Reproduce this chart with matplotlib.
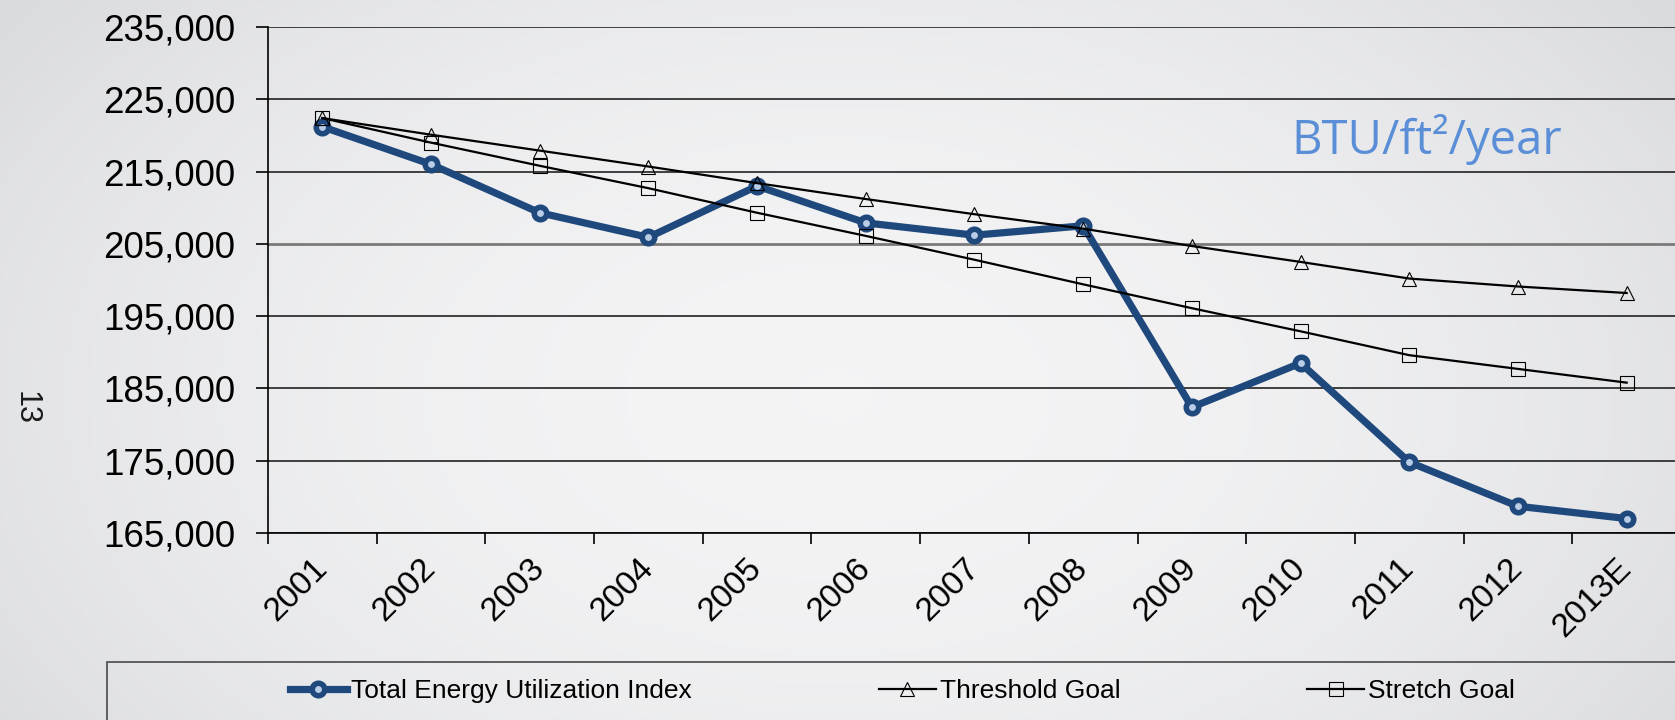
import numpy as np
import matplotlib.pyplot as plt
from matplotlib.lines import Line2D
from matplotlib.patches import Rectangle

# ==============================================================
# chart data

years = ['2001', '2002', '2003', '2004', '2005', '2006', '2007',
         '2008', '2009', '2010', '2011', '2012', '2013E']
total_eui = [221200, 216000, 209300, 205900, 213000, 207900, 206200,
             207500, 182400, 188500, 174800, 168700, 167000]
threshold_goal = [222400, 220100, 217900, 215700, 213400, 211200, 209100,
                  207100, 204700, 202500, 200200, 199100, 198200]
stretch_goal = [222400, 219000, 215800, 212700, 209300, 206100, 202800,
                199400, 196100, 192900, 189600, 187700, 185800]
y_ticks = list(range(165000, 235001, 10000))

W, H = 1675, 720
plt.rcParams['font.family'] = ['Liberation Sans', 'DejaVu Sans']

fig = plt.figure(figsize=(W / 100, H / 100), dpi=100)

# soft grey slide background
bg = fig.add_axes([0, 0, 1, 1], zorder=-10)
bg.axis('off')
gx, gy = np.meshgrid(np.linspace(0, 1, 400), np.linspace(0, 1, 200))
r = np.sqrt(((gx - 0.5) / 0.62) ** 2 + ((gy - 0.45) / 0.9) ** 2)
r = np.clip(r, 0, 1) ** 2
centre = np.array([0.957, 0.957, 0.961])
edge = np.array([0.855, 0.859, 0.871])
img = centre + (edge - centre) * r[..., None]
bg.imshow(img, extent=[0, 1, 0, 1], aspect='auto', origin='lower')
bg.set_xlim(0, 1)
bg.set_ylim(0, 1)

# plot area runs slightly past the right edge, as in the slide
left, right, top, bottom = 268, 1681, 27, 533
ax = fig.add_axes([left / W, 1 - bottom / H, (right - left) / W, (bottom - top) / H])
ax.patch.set_alpha(0)

# line styles (shared with the legend handles)
eui_style = dict(color='#1f497d', lw=5.2, marker='o', ms=9,
                 mfc='#b9cde6', mec='#1f497d', mew=4)
thr_style = dict(color='black', lw=1.6, marker='^', ms=10,
                 mfc='none', mec='black', mew=0.8)
str_style = dict(color='black', lw=1.6, marker='s', ms=10,
                 mfc='none', mec='black', mew=0.8)

x = np.arange(len(years))
ax.plot(x, total_eui, zorder=3, **eui_style)
ax.plot(x, threshold_goal, zorder=4, **thr_style)
ax.plot(x, stretch_goal, zorder=4, **str_style)

ax.set_xlim(-0.5, len(years) - 0.5)
ax.set_ylim(y_ticks[0], y_ticks[-1])

ax.set_yticks(y_ticks)
ax.set_yticklabels([f'{v:,}' for v in y_ticks], fontsize=26.5)
ax.yaxis.grid(True, color='#222222', lw=1.2)
ax.set_axisbelow(True)
ax.tick_params(axis='y', length=8.5, width=1.2, pad=15, color='black')
# the 205,000 gridline renders lighter in the original
ax.get_ygridlines()[y_ticks.index(205000)].set(color='#7a7a7a', lw=2)

ax.set_xticks(x)
ax.set_xticklabels(years, fontsize=24, rotation=45, ha='right', va='center',
                   rotation_mode='anchor')
ax.tick_params(axis='x', which='major', length=0, pad=22)
ax.set_xticks(np.arange(-0.5, len(years)), minor=True)
ax.tick_params(axis='x', which='minor', length=8, width=1.2, color='black')

for side in ['top', 'right']:
    ax.spines[side].set_visible(False)
for side in ['left', 'bottom']:
    ax.spines[side].set_linewidth(1.2)
    ax.spines[side].set_color('black')

# unit label
fig.text(1427 / W, 1 - 154 / H, 'BTU/ft\u00b2/year', color='#5a8fd8',
         fontsize=34, ha='center', va='baseline', family=['Open Sans', 'DejaVu Sans'])

# slide page number
fig.text(26 / W, 1 - 408 / H, '13', rotation=-90, fontsize=22, color='#1a1a1a',
         ha='center', va='center')

# legend box along the bottom
fig.patches.append(Rectangle((107 / W, -0.02), 1.0, 0.02 + (H - 662) / H,
                             transform=fig.transFigure, fill=False,
                             edgecolor='#555555', lw=1.3))
handles = [Line2D([], [], **eui_style), Line2D([], [], **thr_style),
           Line2D([], [], **str_style)]
labels = ['Total Energy Utilization Index', 'Threshold Goal', 'Stretch Goal']
fig.legend(handles, labels, loc='center left', bbox_to_anchor=(290 / W, 1 - 691 / H),
           ncol=3, frameon=False, fontsize=19, handlelength=2.15,
           handletextpad=0.15, columnspacing=7.1, borderpad=0, borderaxespad=0)

fig.savefig('out.png', dpi=100)
